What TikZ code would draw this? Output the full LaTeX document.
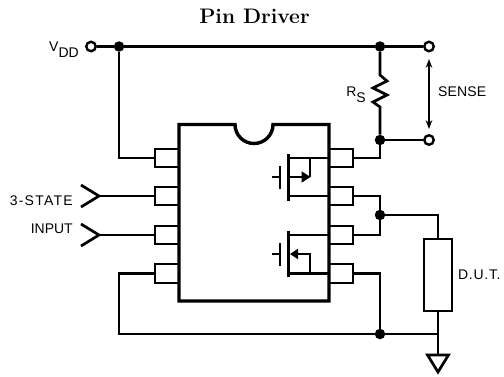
\documentclass[tikz,border=0pt]{standalone}
\usepackage{fontspec}
\setsansfont{Liberation Sans}
\usetikzlibrary{arrows.meta}
\tikzset{
    wire/.style={line width=2.1pt},
    heavy/.style={line width=2.7pt},
    pinbox/.style={draw,line width=2.1pt,minimum width=24pt,minimum height=18.5pt,inner sep=0pt},
    dot/.style={circle,fill=black,minimum size=10.5pt,inner sep=0pt},
    term/.style={circle,draw,fill=white,line width=2.4pt,minimum size=9.5pt,inner sep=0pt},
    lbl/.style={font=\sffamily\fontsize{14}{16}\selectfont,inner sep=0pt}
}
\begin{document}
\begin{tikzpicture}[x=1pt,y=-1pt]
    \useasboundingbox (0,0) rectangle (504,376);
    \node[font=\bfseries\fontsize{21}{24}\selectfont] (title) at (254.5,16) {Pin Driver};

    \foreach \i/\y in {1/158,2/196,3/235,4/273.5} {
        \node[pinbox] (pl\i) at (167,\y) {};
        \node[pinbox] (pr\i) at (341,\y) {};
    }
    \draw[line width=3.4pt] (235,124.5) arc[start angle=180,end angle=0,radius=19]
        -- (329,124.5) -- (329,301) -- (179,301) -- (179,124.5) -- cycle;

    \node[term] (vdd) at (91,46.5) {};
    \node[dot] (jvdd) at (119,46.5) {};
    \node[dot] (jtop) at (380,46.5) {};
    \node[term] (stop) at (429,46.5) {};
    \node[dot] (jsns) at (380,140) {};
    \node[term] (sbot) at (429,140) {};
    \node[dot] (jout) at (380,215) {};
    \node[dot] (jgnd) at (380,334) {};
    \node[draw,heavy,minimum width=28pt,minimum height=72pt,inner sep=0pt] (dut) at (438,275) {};
    \coordinate (cbl) at (119,334);
    \coordinate (cdut) at (438,334);
    \coordinate (gnd) at (438,355);
    \coordinate (in2) at (99,196);
    \coordinate (in3) at (99,235);
    \coordinate (rtop) at (380,75);
    \coordinate (rbot) at (380,110);

    \draw[heavy] (vdd) -- (jvdd) -- (jtop) -- (stop);
    \draw[wire] (jvdd) -- (pl1.west -| jvdd) -- (pl1.west);
    \draw[heavy] (jtop) -- (rtop) -- ++(7,6) -- ++(-14,7) -- ++(14,7) -- ++(-14,7) -- ++(7,5) -- (rbot) -- (jsns);
    \draw[heavy] (jsns) -- (sbot);
    \draw[wire] (pr1.east) -| (jsns);
    \draw[Stealth-Stealth,line width=1.3pt] (429,59) -- (429,129);

    \draw[wire] (pr2.east) -| (jout);
    \draw[wire] (pr3.east) -| (jout);
    \draw[wire] (jout) -| (dut.north);
    \draw[wire] (pr4.east) -| (jgnd);
    \draw[wire] (pl4.west) -| (cbl) -- (jgnd) -- (cdut);
    \draw[heavy] (dut.south) -- (gnd);
    \draw[heavy] (gnd) -- ++(-10.5,0) -- ++(10.5,17) -- ++(10.5,-17) -- cycle;

    \foreach \c/\p in {in2/pl2,in3/pl3} {
        \draw[wire] (\c) -- (\p.west);
        \draw[heavy] (\c) ++(-18,-11) -- (\c) -- ++(-18,11);
    }

    \foreach \t/\b in {154/200.5,231/277}
        \draw[heavy] (288.5,\t) -- (288.5,\b);
    \foreach \t/\b/\m in {166/189/177,243/266/254} {
        \draw[heavy] (280,\t) -- (280,\b);
        \draw[wire] (272,\m) -- (280,\m);
    }
    \draw[wire] (288.5,158) -- (pr1.west);
    \draw[wire] (288.5,196) -- (pr2.west);
    \draw[wire] (288.5,235) -- (pr3.west);
    \draw[wire] (288.5,273.5) -- (pr4.west);
    \draw[wire,-{Triangle[length=9pt,width=11pt]}] (288.5,177) -- (310.5,177);
    \draw[wire] (310,158) -- (310,177);
    \draw[wire,-{Triangle[length=8pt,width=10pt]}] (310,273.5) -- (310,254) -- (290,254);

    \node[lbl,anchor=east] (lvdd) at (79,50) {V\raisebox{-6pt}{DD}};
    \node[lbl,anchor=east] (lrs) at (366,95) {R\raisebox{-6pt}{S}};
    \node[lbl,anchor=west] (lsense) at (438,92) {\addfontfeatures{LetterSpace=1}SENSE};
    \node[lbl,anchor=east] (lstate) at (73,201) {\addfontfeatures{LetterSpace=9}3-STATE};
    \node[lbl,anchor=east] (linput) at (73,229) {INPUT};
    \node[lbl,anchor=west] (ldut) at (458,275) {\addfontfeatures{LetterSpace=5}D.U.T.};
\end{tikzpicture}
\end{document}
